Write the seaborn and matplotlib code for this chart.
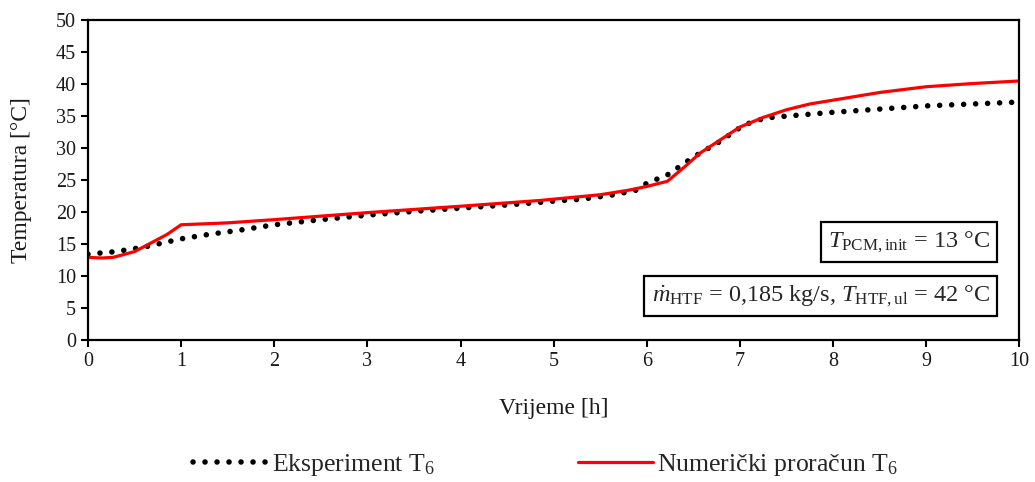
import numpy as np
import pandas as pd
import seaborn as sns
import matplotlib.pyplot as plt
plt.switch_backend('agg')

# experiment T6 (dotted)
t_exp = [0.0, 0.3, 0.6, 1.0, 1.3, 1.65, 2.0, 2.5, 3.0, 3.5, 4.0, 4.5, 4.85, 5.0, 5.3, 5.65,
         5.88, 6.0, 6.22, 6.5, 6.77, 7.0, 7.1, 7.27, 7.5, 8.0, 8.5, 9.0, 9.5, 10.0]
T_exp = [13.4, 13.8, 14.5, 15.8, 16.5, 17.2, 18.0, 18.8, 19.5, 20.1, 20.6, 21.1, 21.5, 21.7, 22.0, 22.7,
         23.4, 24.5, 25.8, 28.6, 30.9, 33.2, 33.9, 34.7, 35.0, 35.6, 36.1, 36.6, 36.9, 37.2]

# numerical T6 (solid red)
t_num = [0.0, 0.15, 0.27, 0.5, 0.67, 0.85, 1.0, 1.5, 2.0, 3.0, 4.0, 4.85, 5.5, 5.8, 6.0, 6.22,
         6.4, 6.57, 6.8, 7.0, 7.25, 7.5, 7.75, 8.0, 8.5, 9.0, 9.5, 10.0]
T_num = [12.9, 12.8, 12.9, 13.8, 15.1, 16.5, 18.0, 18.3, 18.8, 19.9, 20.9, 21.8, 22.7, 23.4, 24.0, 24.8,
         27.0, 29.2, 31.4, 33.3, 34.8, 36.0, 36.9, 37.5, 38.7, 39.6, 40.1, 40.5]

df_exp = pd.DataFrame({'Vrijeme': t_exp, 'T': T_exp})
df_num = pd.DataFrame({'Vrijeme': t_num, 'T': T_num})

sns.set_style('ticks')
plt.rcParams['font.family'] = ['Liberation Serif', 'DejaVu Serif']
plt.rcParams['mathtext.fontset'] = 'custom'
plt.rcParams['mathtext.rm'] = 'Liberation Serif'
plt.rcParams['mathtext.it'] = 'Liberation Serif:italic'

fig, ax = plt.subplots(figsize=(10.35, 4.82), dpi=100)
fig.subplots_adjust(left=0.085, right=0.985, top=0.958, bottom=0.295)

sns.lineplot(data=df_exp, x='Vrijeme', y='T', ax=ax, color='black', lw=4.0,
             linestyle=(0, (0.01, 2.15)), dash_capstyle='round',
             label='Eksperiment T$_6$')
sns.lineplot(data=df_num, x='Vrijeme', y='T', ax=ax, color='#ff0000', lw=2.3,
             label='Numerički proračun T$_6$')

ax.set_xlim(0, 10)
ax.set_ylim(0, 50)
ax.set_xticks(range(0, 11))
ax.set_yticks(range(0, 51, 5))
ax.tick_params(labelsize=14.5, width=1.5, length=5, color='black', labelcolor='#1a1a1a')
for s in ax.spines.values():
    s.set_linewidth(1.6)
    s.set_color('black')
ax.set_xlabel('Vrijeme [h]', fontsize=17, color='#1a1a1a', labelpad=20)
ax.set_ylabel('Temperatura [°C]', fontsize=17, color='#1a1a1a', labelpad=17)

box = dict(boxstyle='square,pad=0.3', facecolor='white', edgecolor='black', linewidth=1.6)
ax.text(0.968, 0.306, r'$T_{\mathrm{PCM,init}}$ = 13 °C', transform=ax.transAxes,
        ha='right', va='center', fontsize=17.5, bbox=box)
ax.text(0.968, 0.1375, r'$\dot{m}_{\mathrm{HTF}}$ = 0,185 kg/s, $T_{\mathrm{HTF,ul}}$ = 42 °C',
        transform=ax.transAxes, ha='right', va='center', fontsize=17.5, bbox=box)

handles, labels = ax.get_legend_handles_labels()
ax.get_legend().remove()
fig.legend(handles, labels, loc='lower center', bbox_to_anchor=(0.527, -0.04), ncol=2,
           frameon=False, fontsize=18.5, handlelength=2.9, columnspacing=5.6, handletextpad=0.15)

plt.savefig('out.png', dpi=100)
plt.close()
